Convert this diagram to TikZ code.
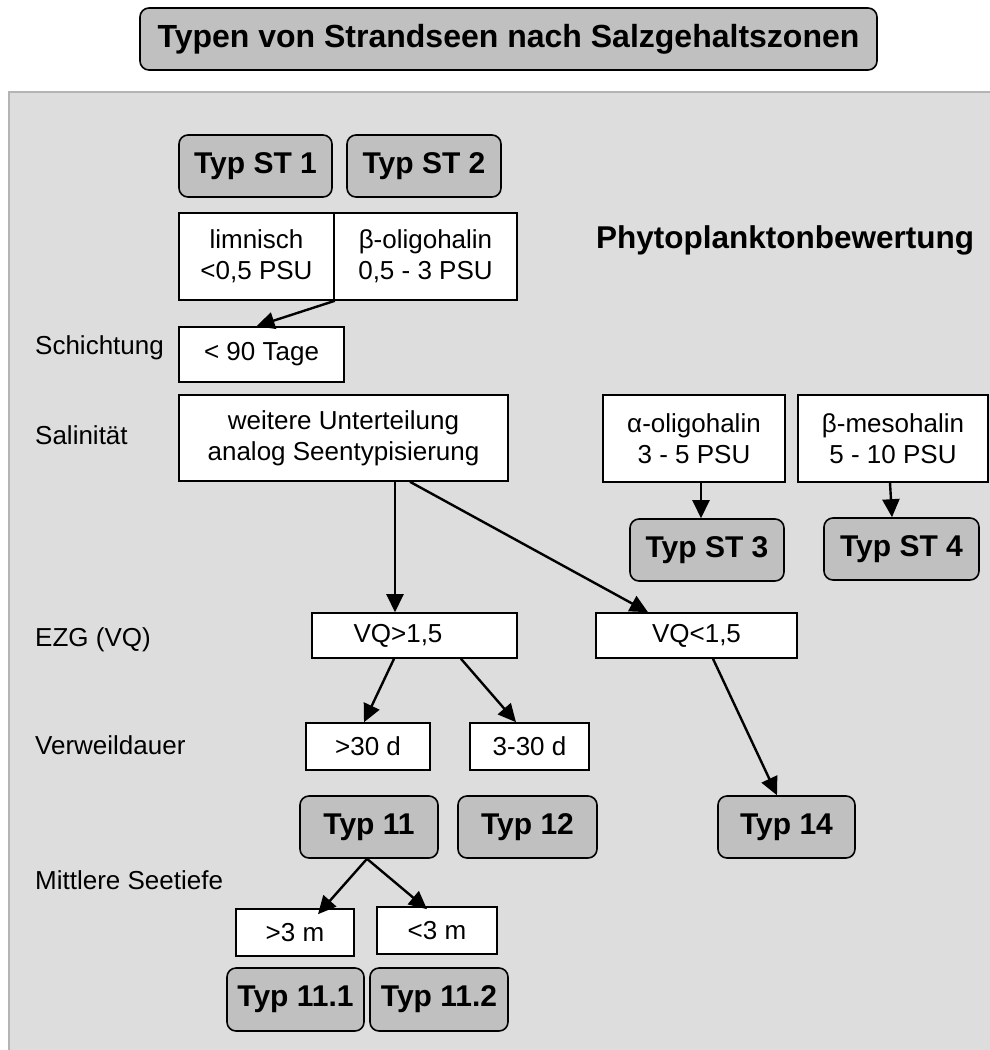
\documentclass[tikz,border=0pt]{standalone}
\usepackage{fontspec}
\setmainfont{Liberation Sans}
\usetikzlibrary{arrows.meta}
\usetikzlibrary{positioning}
\definecolor{typgray}{HTML}{C0C0C0}
\definecolor{panelgray}{HTML}{DDDDDD}
\definecolor{rimgray}{HTML}{B4B4B4}

\begin{document}
\begin{tikzpicture}[x=1pt, y=-1pt,
    box/.style={rectangle, draw, fill=white, line width=1.6pt, inner sep=0pt, align=center, font=\fontsize{26}{31}\selectfont},
    typbox/.style={rectangle, rounded corners=9pt, draw, fill=typgray, line width=1.6pt, inner sep=0pt, minimum height=62pt, font=\fontsize{30}{34}\selectfont\bfseries},
    lbl/.style={anchor=west, inner sep=0pt, font=\fontsize{26}{31}\selectfont},
    arr/.style={-{Triangle[length=18pt, width=17pt]}, line width=2.4pt}]
        \useasboundingbox (0,0) rectangle (990,1050);
        \draw[fill=panelgray, draw=rimgray, line width=2pt] (9,92) rectangle (1000,1060);

        \node[typbox, minimum width=737pt, font=\fontsize{32}{36}\selectfont\bfseries] (title) at (508.5,39) {Typen von Strandseen nach Salzgehaltszonen};

        \node[typbox, minimum width=153pt] (st1) at (255.5,166) {Typ ST 1};
        \node[typbox, minimum width=154pt] (st2) at (424,166) {Typ ST 2};

        \node[box, minimum width=155pt, minimum height=87pt] (lim) at (256.5,256.5) {limnisch\\<0,5 PSU};
        \node[box, minimum width=183pt, minimum height=87pt] (oligo) at (425.5,256.5) {β-oligohalin\\0,5 - 3 PSU};

        \node[anchor=center, inner sep=0pt, font=\fontsize{31.5}{36}\selectfont\bfseries] (phyto) at (785,240) {Phytoplanktonbewertung};

        \node[lbl] (schicht) at (35,348) {Schichtung};
        \node[box, minimum width=165pt, minimum height=55pt] (tage) at (261.5,354.5) {< 90 Tage};

        \node[lbl] (salin) at (35,435) {Salinität};
        \node[box, minimum width=329pt, minimum height=86pt] (weit) at (343.5,438) {weitere Unterteilung\\analog Seentypisierung};
        \node[box, minimum width=182pt, minimum height=87pt] (alpha) at (694,438.5) {α-oligohalin\\3 - 5 PSU};
        \node[box, minimum width=190pt, minimum height=87pt] (meso) at (893,438.5) {β-mesohalin\\5 - 10 PSU};

        \node[typbox, minimum width=154pt] (st3) at (707,550) {Typ ST 3};
        \node[typbox, minimum width=155pt] (st4) at (901.5,549) {Typ ST 4};

        \node[lbl] (ezg) at (35,640) {EZG (VQ)};
        \node[box, minimum width=205pt, minimum height=45pt] (vqg) at (414.5,635.5) {VQ>1,5\hspace*{33pt}};
        \node[box, minimum width=201pt, minimum height=45pt] (vqk) at (696.5,635.5) {VQ<1,5};

        \node[lbl] (verw) at (35,745) {Verweildauer};
        \node[box, minimum width=124pt, minimum height=47pt] (d30) at (368,746.5) {>30 d};
        \node[box, minimum width=119pt, minimum height=47pt] (d330) at (529.5,746.5) {3-30 d};

        \node[typbox, minimum width=138pt] (t11) at (369,827) {Typ 11};
        \node[typbox, minimum width=139pt] (t12) at (527.5,827) {Typ 12};
        \node[typbox, minimum width=137pt] (t14) at (786.5,827) {Typ 14};

        \node[lbl] (tiefe) at (35,880) {Mittlere Seetiefe};
        \node[box, minimum width=118pt, minimum height=47pt] (m3g) at (295,932.5) {>3 m};
        \node[box, minimum width=120pt, minimum height=47pt] (m3k) at (437,930.5) {<3 m};

        \node[typbox, minimum width=137pt, minimum height=63pt] (t111) at (295.5,999.5) {Typ 11.1};
        \node[typbox, minimum width=138pt, minimum height=63pt] (t112) at (439,999.5) {Typ 11.2};

        \draw[arr] (lim.south east) -- ([xshift=-5pt]tage.north);
        \draw[arr] ([xshift=51.5pt]weit.south) -- ([xshift=-19.5pt]vqg.north);
        \draw[arr] ([xshift=66.5pt]weit.south) -- ([xshift=-48.5pt]vqk.north);
        \draw[arr] ([xshift=7pt]alpha.south) -- ([xshift=-6pt]st3.north);
        \draw[arr] ([xshift=-3pt]meso.south) -- ([xshift=-9.5pt]st4.north);
        \draw[arr] ([xshift=-20.5pt]vqg.south) -- ([xshift=-4pt]d30.north);
        \draw[arr] ([xshift=46.5pt]vqg.south) -- ([xshift=-13.5pt]d330.north);
        \draw[arr] ([xshift=16.5pt]vqk.south) -- ([xshift=-9.5pt]t14.north);
        \draw[arr] ([xshift=-2pt]t11.south) -- ([xshift=23pt, yshift=-6pt]m3g.north);
        \draw[arr] ([xshift=-2pt]t11.south) -- ([xshift=-10pt, yshift=-3pt]m3k.north);
\end{tikzpicture}
\end{document}
